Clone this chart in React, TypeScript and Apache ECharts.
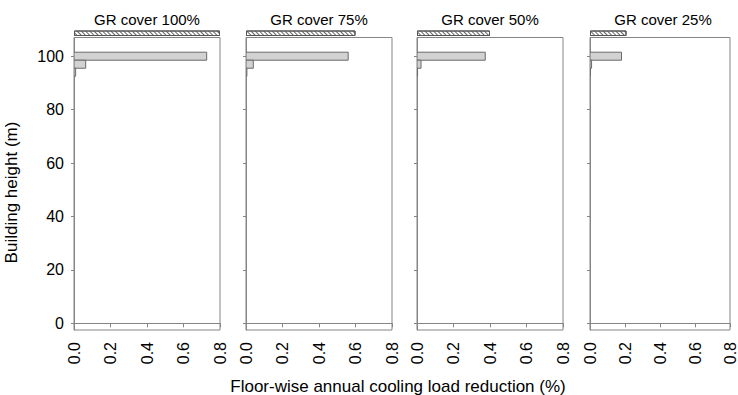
import React, { useEffect, useRef } from "react";
import * as echarts from "echarts";

// ---- data ----
const panelTitles = ["GR cover 100%", "GR cover 75%", "GR cover 50%", "GR cover 25%"];
const coverPct = [100, 75, 50, 25];
const floorHeights = [100, 97, 94];
const reduction100 = [0.727, 0.064, 0.009];
const reduction75 = [0.56, 0.04, 0.005];
const reduction50 = [0.374, 0.022, 0.003];
const reduction25 = [0.18, 0.009, 0.002];
const xTickValues = [0, 0.2, 0.4, 0.6, 0.8];
const yTickValues = [0, 20, 40, 60, 80, 100];
const floorThickness = 3;
const xMax = 0.8;

const reductions = [reduction100, reduction75, reduction50, reduction25];

const FONT = "'Liberation Sans', Arial, Helvetica, sans-serif";
const FRAME = "#858585";

export default function App() {
  const ref = useRef<HTMLDivElement>(null);

  useEffect(() => {
    if (!ref.current) return;
    const chart = echarts.init(ref.current, null, { renderer: "svg" });

    const panelLefts = [74, 246, 417, 590];
    const panelWidth = 146;
    const mainTop = 37.5;
    const mainHeight = 292.5;

    const grids: any[] = [];
    const xAxes: any[] = [];
    const yAxes: any[] = [];
    const series: any[] = [];
    const graphics: any[] = [];

    panelTitles.forEach((title, i) => {
      const left = panelLefts[i];
      grids.push({
        left,
        top: mainTop,
        width: panelWidth,
        height: mainHeight,
        show: true,
        borderColor: FRAME,
        borderWidth: 1,
        backgroundColor: "transparent",
      });
      grids.push({ left, top: 30.5, width: panelWidth, height: 5.5, show: false });

      const gm = i * 2;
      const gs = i * 2 + 1;

      xAxes.push({
        type: "value",
        gridIndex: gm,
        min: 0,
        max: xMax,
        interval: 0.2,
        splitLine: { show: false },
        axisLine: { show: true, lineStyle: { color: FRAME, width: 1 } },
        axisTick: { show: true, length: 4, lineStyle: { color: FRAME } },
        axisLabel: {
          show: true,
          rotate: 90,
          margin: 12,
          fontSize: 16,
          color: "#000",
          fontFamily: FONT,
          formatter: (v: number) => v.toFixed(1),
          customValues: xTickValues,
        },
      });
      yAxes.push({
        type: "value",
        gridIndex: gm,
        min: -2.5,
        max: 107,
        splitLine: { show: false },
        axisLine: { show: true, lineStyle: { color: FRAME, width: 1 } },
        axisTick: { show: true, length: 3, lineStyle: { color: FRAME }, customValues: yTickValues },
        axisLabel: {
          show: i === 0,
          margin: 10,
          fontSize: 16,
          color: "#000",
          fontFamily: FONT,
          customValues: yTickValues,
        },
      });

      xAxes.push({ type: "value", gridIndex: gs, min: 0, max: xMax, show: false });
      yAxes.push({ type: "category", gridIndex: gs, data: ["strip"], show: false });

      const data = floorHeights.map((h, k) => [reductions[i][k], h]);
      series.push({
        type: "custom",
        xAxisIndex: gm,
        yAxisIndex: gm,
        clip: true,
        encode: { x: 0, y: 1 },
        data,
        renderItem: (params: any, api: any) => {
          const v = api.value(0);
          const h = api.value(1);
          const p0 = api.coord([0, h + floorThickness / 2]);
          const p1 = api.coord([v, h - floorThickness / 2]);
          return {
            type: "rect",
            shape: { x: p0[0], y: p0[1], width: p1[0] - p0[0], height: p1[1] - p0[1] },
            style: { fill: "#d2d2d2", stroke: "#6a6a6a", lineWidth: 1 },
          };
        },
      });

      series.push({
        type: "bar",
        xAxisIndex: gs,
        yAxisIndex: gs,
        barWidth: "100%",
        data: [(coverPct[i] / 100) * xMax],
        itemStyle: {
          color: "#ffffff",
          borderColor: "#555",
          borderWidth: 1,
          decal: {
            symbol: "rect",
            symbolSize: 1,
            dashArrayX: [1, 0],
            dashArrayY: [1, 1.6],
            rotation: Math.PI / 4,
            color: "#666",
            backgroundColor: "#ffffff",
          },
        },
      });

      graphics.push({
        type: "text",
        x: left + panelWidth / 2,
        y: 19.5,
        style: {
          text: title,
          textAlign: "center",
          textVerticalAlign: "middle",
          fontSize: 15,
          fontFamily: FONT,
          fill: "#000",
        },
      });
    });

    graphics.push({
      type: "text",
      x: 11,
      y: 192.5,
      rotation: Math.PI / 2,
      style: {
        text: "Building height (m)",
        textAlign: "center",
        textVerticalAlign: "middle",
        fontSize: 17,
        fontFamily: FONT,
        fill: "#000",
      },
    });
    graphics.push({
      type: "text",
      x: 398,
      y: 386,
      style: {
        text: "Floor-wise annual cooling load reduction (%)",
        textAlign: "center",
        textVerticalAlign: "middle",
        fontSize: 17,
        fontFamily: FONT,
        fill: "#000",
      },
    });

    chart.setOption({
      animation: false,
      backgroundColor: "#ffffff",
      textStyle: { fontFamily: FONT },
      grid: grids,
      xAxis: xAxes,
      yAxis: yAxes,
      series,
      graphic: graphics,
    });

    return () => chart.dispose();
  }, []);

  return (
    <div
      ref={ref}
      style={{ position: "absolute", left: 0, top: 0, width: 738, height: 395 }}
    />
  );
}
